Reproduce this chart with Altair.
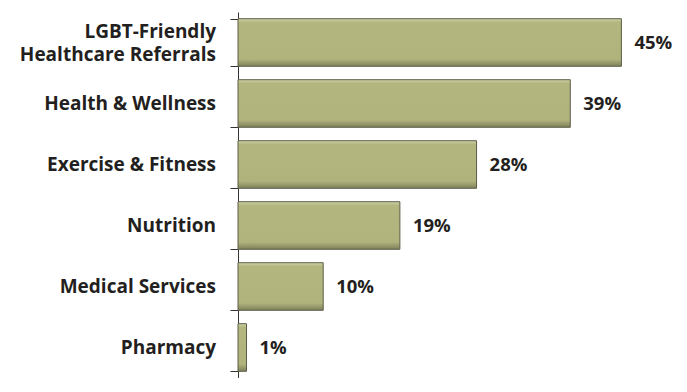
import altair as alt
import pandas as pd

categories = [
    "LGBT-Friendly|Healthcare Referrals",
    "Health & Wellness",
    "Exercise & Fitness",
    "Nutrition",
    "Medical Services",
    "Pharmacy",
]
values = [45, 39, 28, 19, 10, 1]
value_labels = ["45%", "39%", "28%", "19%", "10%", "1%"]

df = pd.DataFrame({"category": categories, "value": values, "label": value_labels})

FONT = "Open Sans"
TEXT_COLOR = "#231f20"

y_enc = alt.Y(
    "category:N",
    sort=categories,
    scale=alt.Scale(paddingInner=0.22, paddingOuter=0.11),
    axis=alt.Axis(
        title=None,
        labels=False,
        tickBand="extent",
        tickSize=8,
        tickColor="#333333",
        domainColor="#333333",
        tickWidth=1,
        domainWidth=1,
        grid=False,
    ),
)
y_plain = alt.Y("category:N", sort=categories)

x_enc = alt.X(
    "value:Q",
    scale=alt.Scale(domain=[0, 50]),
    axis=None,
)

bars = alt.Chart(df).mark_bar(
    color=alt.Gradient(
        gradient="linear",
        stops=[
            alt.GradientStop(color="#cfd2a8", offset=0),
            alt.GradientStop(color="#b3b67f", offset=0.08),
            alt.GradientStop(color="#b0b37c", offset=0.85),
            alt.GradientStop(color="#7e805a", offset=1),
        ],
        x1=0, x2=0, y1=0, y2=1,
    ),
    stroke="#5c5d48",
    strokeWidth=1,
).encode(x=x_enc, y=y_enc)

value_text = alt.Chart(df).mark_text(
    align="left",
    baseline="middle",
    dx=13,
    font=FONT,
    fontSize=18.5,
    fontWeight="bold",
    color=TEXT_COLOR,
).encode(x=x_enc, y=y_plain, text="label:N")

cat_style = dict(
    align="right",
    baseline="middle",
    font=FONT,
    fontSize=19,
    fontWeight="bold",
    color=TEXT_COLOR,
    lineBreak="|",
    lineHeight=23,
)

cat_single = (
    alt.Chart(df)
    .transform_filter("indexof(datum.category, '|') < 0")
    .mark_text(**cat_style)
    .encode(x=alt.value(-22), y=y_plain, text="category:N")
)

cat_multi = (
    alt.Chart(df)
    .transform_filter("indexof(datum.category, '|') >= 0")
    .mark_text(dy=-11, **cat_style)
    .encode(x=alt.value(-22), y=y_plain, text="category:N")
)

chart = (
    alt.layer(bars, value_text, cat_single, cat_multi)
    .properties(
        width=426,
        height=366,
        background="white",
        padding={"left": 11, "top": 4, "right": 0, "bottom": 0},
    )
    .configure_view(stroke=None, strokeWidth=0)
)

chart.save("out.html", embed_options={"renderer": "svg", "actions": False})
